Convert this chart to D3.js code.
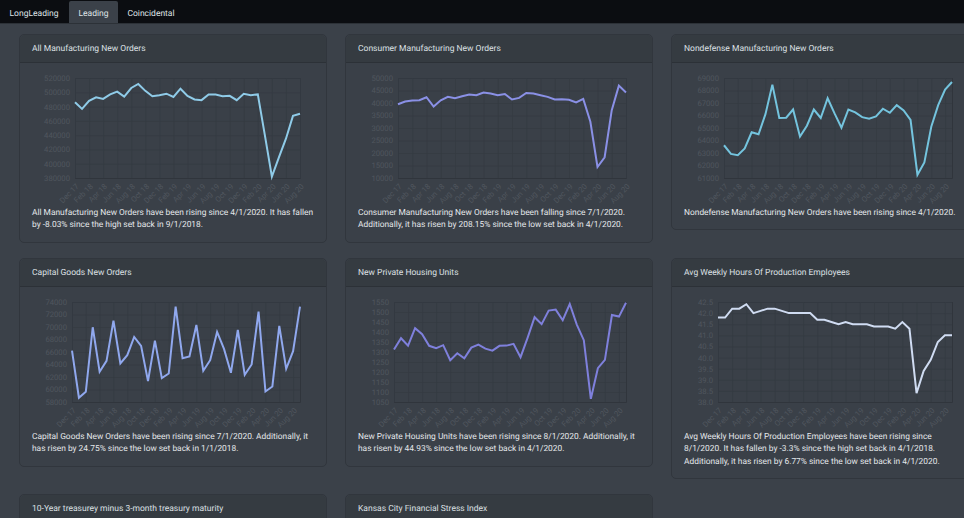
<!DOCTYPE html>
<html>
<head>
<meta charset="utf-8">
<title>Leading</title>
<script src="https://cdn.jsdelivr.net/npm/d3@7"></script>
<style>
html, body { margin: 0; width: 964px; height: 518px; overflow: hidden; background: #3b4149; font-family: Roboto, sans-serif; text-rendering: geometricPrecision; }
#nav { position: absolute; left: 0; top: 0; width: 964px; height: 23px; background: #0b0d11; border-bottom: 1px solid #2c3137; }
.tab { position: absolute; top: 1px; height: 22px; line-height: 26px; font-size: 8.5px; color: #dfe3e6; text-align: center; }
.tab.active { background: #3b4149; border-radius: 2px 2px 0 0; }
.card { position: absolute; width: 308px; box-sizing: border-box; background: #3a4048; border: 1px solid #31363d; border-radius: 5px; }
.card-head { height: 27px; line-height: 28px; padding-left: 12px; font-size: 8.5px; color: #dde0e4; background: #353b41; border-bottom: 1px solid #2c3137; border-radius: 5px 5px 0 0; }
.card-text { position: absolute; left: 12px; top: 171.5px; width: 290px; font-size: 8.4px; line-height: 12.6px; color: #e4e7ea; white-space: nowrap; }
svg { position: absolute; left: 0; top: 0; }
.tick text { fill: #50565e; font-size: 7.7px; font-family: Roboto, sans-serif; }
.tick line { stroke: #353b42; stroke-width: 0.8px; }
.domain { stroke: #30353c; stroke-width: 1px; }
</style>
</head>
<body>
<div id="nav"></div>
<div id="cards"></div>
<script>
const tabs = ["LongLeading", "Leading", "Coincidental"];
const tabX = [0, 69, 118];
const tabW = [68, 49, 66];

const months = ["Dec 17","Jan 18","Feb 18","Mar 18","Apr 18","May 18","Jun 18","Jul 18","Aug 18","Sep 18","Oct 18","Nov 18",
    "Dec 18","Jan 19","Feb 19","Mar 19","Apr 19","May 19","Jun 19","Jul 19","Aug 19","Sep 19","Oct 19","Nov 19",
    "Dec 19","Jan 20","Feb 20","Mar 20","Apr 20","May 20","Jun 20","Jul 20","Aug 20","Sep 20"];

const allOrders = [486000,476700,488000,493000,490700,497000,501000,494000,506000,511600,502000,494400,496000,498000,493500,505000,495000,490000,489000,497000,497000,494500,495000,489000,498000,496000,497000,440000,382000,409000,435000,467000,470000];
const consumerOrders = [39500,40600,41000,41100,42300,38600,41100,42450,41900,42700,43400,43100,44200,43800,43100,43600,41400,42050,44000,43800,43100,42450,41400,41500,41300,40200,41650,32500,14400,18300,37150,46950,44200];
const nondefenseOrders = [63620,62930,62830,63360,64660,64500,66110,68470,65800,65820,66480,64310,65180,66480,65800,67380,66170,65030,66480,66250,65870,65740,65930,66540,66220,66830,66400,65640,61260,62250,65100,66830,68070,68680];
const capitalOrders = [66230,58680,59640,69960,62830,64590,71020,64160,65490,68410,66980,61340,67830,61820,62560,73260,65010,65280,70330,62990,64690,69210,66500,62670,69530,62350,64000,72460,59690,60490,70170,63310,66130,73260];
const housingUnits = [1312,1369,1332,1419,1389,1331,1319,1334,1259,1294,1268,1322,1337,1317,1307,1331,1332,1341,1274,1371,1474,1439,1507,1512,1459,1540,1437,1359,1066,1219,1261,1485,1477,1546];
const weeklyHours = [41.8,41.8,42.2,42.2,42.4,42.0,42.1,42.2,42.2,42.1,42.0,42.0,42.0,42.0,41.7,41.7,41.6,41.5,41.6,41.5,41.5,41.5,41.4,41.4,41.4,41.3,41.6,41.3,38.4,39.4,39.9,40.7,41.0,41.0];

const titles = ["All Manufacturing New Orders","Consumer Manufacturing New Orders","Nondefense Manufacturing New Orders",
    "Capital Goods New Orders","New Private Housing Units","Avg Weekly Hours Of Production Employees",
    "10-Year treasurey minus 3-month treasury maturity","Kansas City Financial Stress Index"];
const series = [allOrders, consumerOrders, nondefenseOrders, capitalOrders, housingUnits, weeklyHours];
const yMin = [380000, 10000, 61000, 58000, 1050, 38];
const yMax = [520000, 50000, 69000, 74000, 1550, 42.5];
const yStep = [20000, 5000, 1000, 2000, 50, 0.5];
const lineColors = ["#8fcbe8", "#8a90e6", "#74c4de", "#90a8ee", "#7f80dc", "#d0dcf2"];
const notes = [
    ["All Manufacturing New Orders have been rising since 4/1/2020. It has fallen", "by -8.03% since the high set back in 9/1/2018."],
    ["Consumer Manufacturing New Orders have been falling since 7/1/2020.", "Additionally, it has risen by 208.15% since the low set back in 4/1/2020."],
    ["Nondefense Manufacturing New Orders have been rising since 4/1/2020."],
    ["Capital Goods New Orders have been rising since 7/1/2020. Additionally, it", "has risen by 24.75% since the low set back in 1/1/2018."],
    ["New Private Housing Units have been rising since 8/1/2020. Additionally, it", "has risen by 44.93% since the low set back in 4/1/2020."],
    ["Avg Weekly Hours Of Production Employees have been rising since", "8/1/2020. It has fallen by -3.3% since the high set back in 4/1/2018.", "Additionally, it has risen by 6.77% since the low set back in 4/1/2020."]
];

const cardX = [19, 345, 671];
const rowY = [34, 258, 494];
const plotLeft = [55, 52, 52, 52, 48, 46];

// Вкладки
d3.select("#nav").selectAll("div.tab")
    .data(tabs)
    .enter()
    .append("div")
    .attr("class", (d, i) => i === 1 ? "tab active" : "tab")
    .style("left", (d, i) => tabX[i] + "px")
    .style("width", (d, i) => tabW[i] + "px")
    .text(d => d);

titles.forEach((title, i) => {
    const lines = notes[i] || [];
    const card = d3.select("#cards").append("div")
        .attr("class", "card")
        .style("left", cardX[i % 3] + "px")
        .style("top", rowY[Math.floor(i / 3)] + "px")
        .style("height", lines.length ? (183.5 + 12.6 * lines.length) + "px" : "200px");

    card.append("div").attr("class", "card-head").text(title);
    if (!series[i]) return;

    const values = series[i];
    const left = plotLeft[i], right = 280, top = 43, bottom = 143;
    const labels = months.slice(0, values.length);

    const svg = card.append("svg").attr("width", 306).attr("height", 172);

    const x = d3.scalePoint().domain(labels).range([left, right]);
    const y = d3.scaleLinear().domain([yMin[i], yMax[i]]).range([bottom, top]);

    const yTicks = d3.range(yMin[i], yMax[i] + yStep[i] / 2, yStep[i]);
    const xTicks = labels.filter((d, k) => k % 2 === 0);

    // Сітка та підписи осей
    svg.append("g")
        .attr("transform", `translate(${left},0)`)
        .call(d3.axisLeft(y).tickValues(yTicks).tickSize(-(right - left)).tickPadding(5)
            .tickFormat(d => yStep[i] < 1 ? d.toFixed(1) : d));

    const xAxis = svg.append("g")
        .attr("transform", `translate(0,${bottom})`)
        .call(d3.axisBottom(x).tickValues(xTicks).tickSize(-(bottom - top)));
    xAxis.selectAll("text")
        .attr("text-anchor", "end")
        .attr("x", 0)
        .attr("y", 0)
        .attr("dy", "0.35em")
        .attr("transform", "translate(2,7) rotate(-45)");

    const line = d3.line()
        .x((d, k) => x(labels[k]))
        .y(d => y(d));

    svg.append("path")
        .datum(values)
        .attr("d", line)
        .attr("fill", "none")
        .attr("stroke", lineColors[i])
        .attr("stroke-width", 2);

    card.append("div")
        .attr("class", "card-text")
        .html(lines.join("<br>"));
});
</script>
</body>
</html>
